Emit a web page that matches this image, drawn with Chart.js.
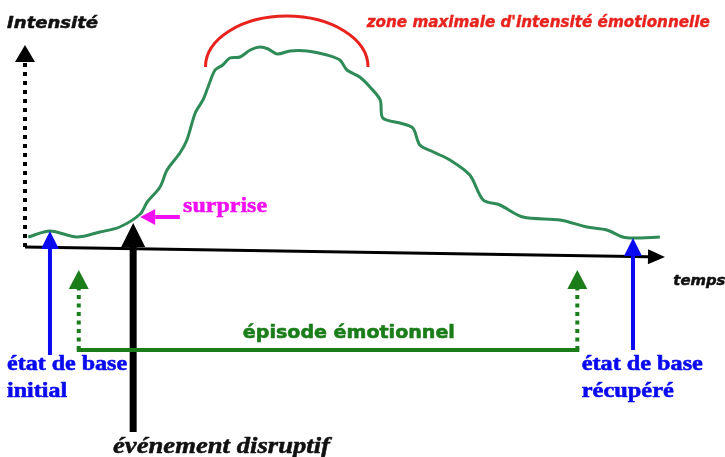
<!DOCTYPE html>
<html>
<head>
<meta charset="utf-8">
<script src="https://cdn.jsdelivr.net/npm/chart.js@4/dist/chart.umd.min.js"></script>
<style>
html,body{margin:0;padding:0;background:#fff;}
canvas{display:block;}
</style>
</head>
<body>
<canvas id="c" width="725" height="457"></canvas>
<script>
// ---- data (time units 0..100 along the time axis, intensity 0..100) ----
const timeValues = [0.5,3.9,8.1,11.7,14.8,18.0,19.1,21.1,22.2,24.2,25.3,26.6,27.8,28.6,29.7,30.9,32.0,33.6,35.2,36.7,38.0,39.4,41.4,44.1,47.2,49.2,50.3,52.3,53.9,55.5,55.9,58.6,60.6,61.7,63.8,66.4,69.5,71.6,74.2,77.8,83.6,87.8,90.9,93.4,95.0,99.2];
const intensityValues = [5,8,5,7.5,10,16.5,22.5,30,38.5,47,53.5,67,73.5,80,88.5,91,94.5,95,98.5,100,99,96.5,98,98,96,93.5,88.5,85,80,73.5,64.5,62,59.5,51,47.5,43.5,36,23.5,21,15,13.5,10,8.5,5,4.5,5];

// key moments on the time axis
const markerNames = ['baseInitial','episodeStart','event','surprise','episodeEnd','baseRecovered'];
const markerTimes = [3.9, 8.4, 16.9, 18.0, 86.3, 95.0];
// peak zone (time start, time end)
const peakZoneTimes = [28.2, 53.6];

const axisTitles = ['Intensité','temps'];
const labels = {
  zone: "zone maximale d'intensité émotionnelle",
  surprise: 'surprise',
  episode: 'épisode émotionnel',
  baseInitial: ['état de base','initial'],
  baseRecovered: ['état de base','récupéré'],
  event: 'événement disruptif'
};

const M = {};
markerNames.forEach((n,i)=>M[n]=markerTimes[i]);

function drawArrow(ctx, x0, y0, x1, y1, o){
  const dx = x1-x0, dy = y1-y0, L = Math.hypot(dx,dy);
  const ux = dx/L, uy = dy/L, nx = -uy, ny = ux;
  const bx = x1 - ux*o.headLen, by = y1 - uy*o.headLen;
  ctx.save();
  ctx.strokeStyle = o.color; ctx.fillStyle = o.color;
  ctx.lineWidth = o.width; ctx.lineCap = 'butt';
  if (o.dash) ctx.setLineDash(o.dash);
  ctx.beginPath(); ctx.moveTo(x0,y0); ctx.lineTo(bx,by); ctx.stroke();
  ctx.setLineDash([]);
  ctx.beginPath();
  ctx.moveTo(x1,y1);
  ctx.lineTo(bx + nx*o.headHalf, by + ny*o.headHalf);
  ctx.lineTo(bx - nx*o.headHalf, by - ny*o.headHalf);
  ctx.closePath(); ctx.fill();
  ctx.restore();
}

function drawText(ctx, text, x, y, font, color, targetW, align, heavy){
  ctx.save();
  ctx.font = font; ctx.fillStyle = color; ctx.strokeStyle = color; ctx.textBaseline = 'alphabetic';
  const w = ctx.measureText(text).width;
  const sx = targetW ? targetW / w : 1;
  let left = x;
  if (align === 'center') left = x - (w*sx)/2;
  ctx.translate(left, y); ctx.scale(sx, 1);
  ctx.textAlign = 'left';
  ctx.fillText(text, 0, 0);
  if (heavy) { ctx.lineWidth = heavy; ctx.lineJoin = 'round'; ctx.strokeText(text, 0, 0); }
  ctx.restore();
}

const diagram = {
  id: 'diagram',
  beforeDatasetsDraw(chart){
    const ctx = chart.ctx, xs = chart.scales.x, ys = chart.scales.y;
    const X = v => xs.getPixelForValue(v), Y = v => ys.getPixelForValue(v);
    // intensity axis (dotted, arrow up)
    drawArrow(ctx, X(0), Y(0), X(0), Y(101), {color:'#000', width:4, headLen:17, headHalf:10, dash:[4,5]});
    // time axis
    drawArrow(ctx, X(0), Y(0), X(100), Y(-5), {color:'#000', width:3, headLen:17, headHalf:7.5});
  },
  afterDatasetsDraw(chart){
    const ctx = chart.ctx, xs = chart.scales.x, ys = chart.scales.y;
    const X = v => xs.getPixelForValue(v), Y = v => ys.getPixelForValue(v);
    // red arc over peak zone
    const cx = X((peakZoneTimes[0]+peakZoneTimes[1])/2), cy = Y(90);
    const rx = (X(peakZoneTimes[1]) - X(peakZoneTimes[0]))/2, ry = cy - Y(115.5);
    ctx.save(); ctx.strokeStyle = '#e8231e'; ctx.lineWidth = 3;
    ctx.beginPath(); ctx.ellipse(cx, cy, rx, ry, 0, Math.PI, 2*Math.PI); ctx.stroke(); ctx.restore();

    // blue base-state arrows
    drawArrow(ctx, X(M.baseInitial), Y(-54), X(M.baseInitial), Y(8), {color:'#0a0af0', width:4, headLen:18, headHalf:9});
    drawArrow(ctx, X(M.baseRecovered), Y(-51.5), X(M.baseRecovered), Y(4.5), {color:'#0a0af0', width:4, headLen:18, headHalf:9});
    // black event arrow
    drawArrow(ctx, X(M.event), Y(-92.5), X(M.event), Y(12), {color:'#000', width:7, headLen:24, headHalf:12});
    // green episode bracket
    const g = '#1a7d1a';
    ctx.save(); ctx.strokeStyle = g; ctx.lineWidth = 4;
    ctx.beginPath(); ctx.moveTo(X(M.episodeStart)-2, Y(-51.5)); ctx.lineTo(X(M.episodeEnd)+2, Y(-51.5)); ctx.stroke(); ctx.restore();
    drawArrow(ctx, X(M.episodeStart), Y(-51.5), X(M.episodeStart), Y(-11.5), {color:g, width:4, headLen:19, headHalf:10, dash:[4,4.5]});
    drawArrow(ctx, X(M.episodeEnd), Y(-51.5), X(M.episodeEnd), Y(-11.5), {color:g, width:4, headLen:19, headHalf:10, dash:[4,4.5]});
    // magenta surprise arrow
    drawArrow(ctx, X(M.surprise+6.2), Y(15), X(M.surprise), Y(15), {color:'#f010f0', width:4, headLen:15, headHalf:8});

    // texts
    drawText(ctx, axisTitles[0], X(-2.8), Y(109.5), 'italic bold 16px "DejaVu Sans"', '#111', 91, null, 0.5);
    drawText(ctx, labels.zone, X(53.4), Y(110), 'italic bold 16px "DejaVu Sans"', '#e8231e', 343, null, 0.4);
    drawText(ctx, labels.surprise, X(24.7), Y(17.5), 'bold 21px "Liberation Serif"', '#f010f0', 84, null, 0.5);
    drawText(ctx, axisTitles[1], X(101.3), Y(-19), 'italic bold 14px "DejaVu Sans"', '#111', 52, null, 0.5);
    drawText(ctx, labels.episode, X(50.6), Y(-45.5), 'bold 18px "DejaVu Sans"', g, 212, 'center', 0.6);
    drawText(ctx, labels.baseInitial[0], X(-2.8), Y(-61.5), 'bold 22px "Liberation Serif"', '#0a0af0', 120, null, 0.6);
    drawText(ctx, labels.baseInitial[1], X(-2.8), Y(-75), 'bold 22px "Liberation Serif"', '#0a0af0', 60, null, 0.6);
    drawText(ctx, labels.baseRecovered[0], X(87), Y(-61.5), 'bold 22px "Liberation Serif"', '#0a0af0', 121, null, 0.6);
    drawText(ctx, labels.baseRecovered[1], X(87), Y(-75), 'bold 22px "Liberation Serif"', '#0a0af0', 92, null, 0.6);
    drawText(ctx, labels.event, X(13.75), Y(-103), 'italic bold 23px "Liberation Serif"', '#111', 217, null, 0.5);
  }
};

new Chart(document.getElementById('c').getContext('2d'), {
  type: 'line',
  data: {
    datasets: [{
      data: timeValues.map((t,i)=>({x:t, y:intensityValues[i]})),
      borderColor: '#2e8b57',
      borderWidth: 3,
      pointRadius: 0,
      tension: 0.3,
      fill: false
    }]
  },
  options: {
    responsive: false,
    animation: false,
    layout: {padding: 0},
    plugins: {legend:{display:false}, tooltip:{enabled:false}, title:{display:false}},
    scales: {
      x: {type:'linear', min:-3.90625, max:109.375, display:false},
      y: {type:'linear', min:-105, max:123.5, display:false}
    }
  },
  plugins: [diagram]
});
</script>
</body>
</html>
